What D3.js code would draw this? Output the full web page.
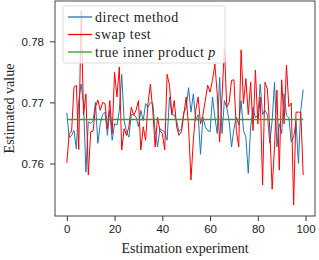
<!DOCTYPE html>
<html lang="en">
<head>
    <meta charset="UTF-8">
    <title>Estimated value</title>
    <style>
        body { margin: 0; padding: 0; background: #fff; }
        svg { display: block; font-family: 'Liberation Serif', 'DejaVu Serif', serif; }
        .tick text { font-size: 11.5px; fill: #222; }
        .tick line { stroke: #333; }
        .domain { display: none; }
    </style>
    <script src="https://d3js.org/d3.v7.min.js"></script>
</head>
<body>
    <div id="chart"></div>
    <script>
        // values, experiment 0..99
        var direct = [
            0.7683, 0.7642, 0.7646, 0.7654, 0.7624, 0.7703, 0.7730, 0.7698, 0.7586, 0.7668,
            0.7666, 0.7670, 0.7700, 0.7633, 0.7665, 0.7680, 0.7684, 0.7646, 0.7687, 0.7638,
            0.7665, 0.7663, 0.7687, 0.7746, 0.7670, 0.7652, 0.7643, 0.7680, 0.7680, 0.7676,
            0.7660, 0.7687, 0.7670, 0.7698, 0.7692, 0.7700, 0.7698, 0.7654, 0.7627, 0.7657,
            0.7654, 0.7652, 0.7638, 0.7709, 0.7680, 0.7679, 0.7670, 0.7652, 0.7657, 0.7684,
            0.7692, 0.7724, 0.7684, 0.7714, 0.7670, 0.7680, 0.7615, 0.7676, 0.7660, 0.7654,
            0.7652, 0.7709, 0.7676, 0.7649, 0.7741, 0.7649, 0.7703, 0.7692, 0.7668, 0.7627,
            0.7657, 0.7676, 0.7663, 0.7703, 0.7654, 0.7643, 0.7584, 0.7660, 0.7692, 0.7675,
            0.7679, 0.7730, 0.7680, 0.7687, 0.7680, 0.7633, 0.7670, 0.7733, 0.7627, 0.7665,
            0.7649, 0.7714, 0.7679, 0.7675, 0.7635, 0.7643, 0.7670, 0.7600, 0.7687, 0.7721
        ];
        var swap = [
            0.7601, 0.7649, 0.7652, 0.7725, 0.7728, 0.7623, 0.7850, 0.7680, 0.7714, 0.7581,
            0.7652, 0.7653, 0.7692, 0.7704, 0.7687, 0.7700, 0.7698, 0.7657, 0.7703, 0.7649,
            0.7749, 0.7709, 0.7758, 0.7622, 0.7657, 0.7646, 0.7660, 0.7692, 0.7679, 0.7687,
            0.7703, 0.7622, 0.7660, 0.7638, 0.7698, 0.7730, 0.7687, 0.7627, 0.7676, 0.7654,
            0.7649, 0.7622, 0.7746, 0.7728, 0.7680, 0.7703, 0.7660, 0.7646, 0.7652, 0.7680,
            0.7709, 0.7660, 0.7573, 0.7638, 0.7687, 0.7709, 0.7665, 0.7679, 0.7703, 0.7728,
            0.7717, 0.7736, 0.7763, 0.7714, 0.7635, 0.7709, 0.7790, 0.7692, 0.7700, 0.7736,
            0.7737, 0.7654, 0.7627, 0.7786, 0.7698, 0.7739, 0.7680, 0.7733, 0.7654, 0.7753,
            0.7665, 0.7709, 0.7565, 0.7733, 0.7722, 0.7657, 0.7558, 0.7627, 0.7720, 0.7589,
            0.7737, 0.7665, 0.7761, 0.7693, 0.7699, 0.7532, 0.7684, 0.7684, 0.7684, 0.7581
        ];
        var trueP = 0.7672;
        var xTicks = [0, 20, 40, 60, 80, 100];
        var yTicks = [0.76, 0.77, 0.78];

        var width = 319, height = 260;
        var margin = { top: 1, right: 4, bottom: 44, left: 55 };
        var w = width - margin.left - margin.right;
        var h = height - margin.top - margin.bottom;

        var svg = d3.select('#chart').append('svg')
            .attr('width', width)
            .attr('height', height);
        var g = svg.append('g')
            .attr('transform', 'translate(' + margin.left + ',' + margin.top + ')');

        var x = d3.scaleLinear().domain([-4.95, 103.95]).range([0, w]);
        var y = d3.scaleLinear().domain([0.7514, 0.7866]).range([h, 0]);

        g.append('g')
            .attr('transform', 'translate(0,' + h + ')')
            .call(d3.axisBottom(x).tickValues(xTicks).tickSize(5).tickPadding(4)
                .tickFormat(d3.format('d')));
        g.append('g')
            .call(d3.axisLeft(y).tickValues(yTicks).tickSize(5).tickPadding(6)
                .tickFormat(d3.format('.2f')));

        var line = d3.line()
            .x(function (d, i) { return x(i); })
            .y(function (d) { return y(d); });

        g.append('path').datum(direct)
            .attr('d', line)
            .attr('fill', 'none')
            .attr('stroke', '#1f77b4')
            .attr('stroke-width', 1);
        g.append('path').datum(swap)
            .attr('d', line)
            .attr('fill', 'none')
            .attr('stroke', '#ff0000')
            .attr('stroke-width', 1);
        g.append('line')
            .attr('x1', x(0)).attr('x2', x(99))
            .attr('y1', y(trueP)).attr('y2', y(trueP))
            .attr('stroke', '#2ca02c')
            .attr('stroke-width', 1.3);

        // frame
        g.append('rect')
            .attr('width', w).attr('height', h)
            .attr('fill', 'none')
            .attr('stroke', '#444')
            .attr('stroke-width', 1);

        // legend
        var legend = [
            { label: 'direct method', color: '#1f77b4' },
            { label: 'swap test', color: '#ff0000' },
            { label: 'true inner product ', italic: 'p', color: '#2ca02c' }
        ];
        var lg = g.append('g').attr('transform', 'translate(8,5)');
        lg.append('rect')
            .attr('width', 162).attr('height', 57)
            .attr('rx', 2)
            .attr('fill', 'rgba(255,255,255,0.8)')
            .attr('stroke', '#ddd');
        legend.forEach(function (d, i) {
            var yy = 11 + i * 17.5;
            lg.append('line')
                .attr('x1', 5).attr('x2', 29)
                .attr('y1', yy).attr('y2', yy)
                .attr('stroke', d.color)
                .attr('stroke-width', 1.3);
            var t = lg.append('text')
                .attr('x', 32).attr('y', yy + 4.5)
                .attr('font-size', 14)
                .attr('letter-spacing', 0.5)
                .attr('fill', '#222')
                .text(d.label);
            if (d.italic) {
                t.append('tspan').attr('font-style', 'italic').text(d.italic);
            }
        });

        // axis labels
        svg.append('text')
            .attr('x', margin.left + w / 2)
            .attr('y', 253)
            .attr('text-anchor', 'middle')
            .attr('font-size', 14)
            .attr('fill', '#222')
            .text('Estimation experiment');
        svg.append('text')
            .attr('transform', 'translate(14,' + (margin.top + h / 2) + ') rotate(-90)')
            .attr('text-anchor', 'middle')
            .attr('font-size', 14)
            .attr('fill', '#222')
            .text('Estimated value');
    </script>
</body>
</html>
